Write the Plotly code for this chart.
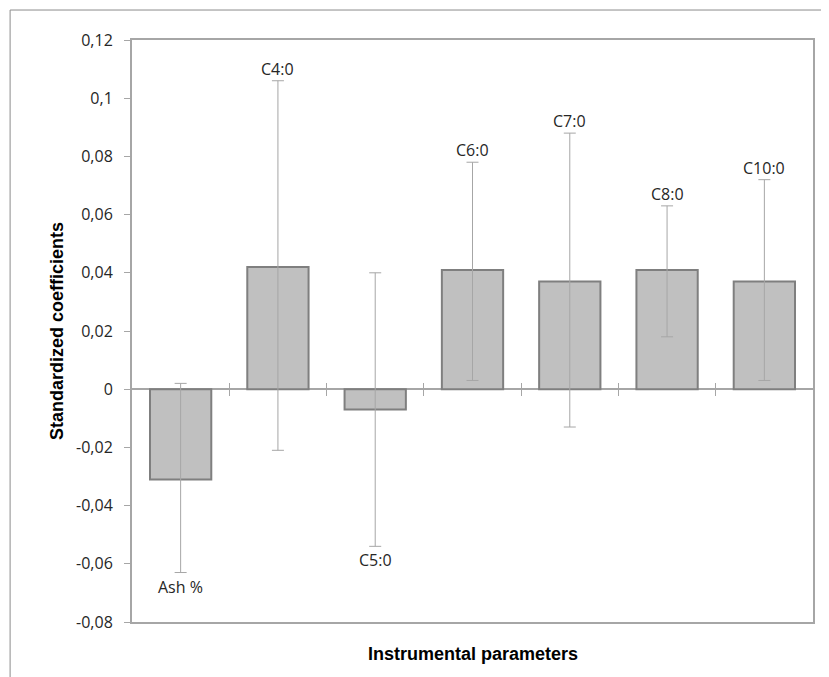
import plotly.graph_objects as go

categories = ["Ash %", "C4:0", "C5:0", "C6:0", "C7:0", "C8:0", "C10:0"]
coefficients = [-0.031, 0.042, -0.007, 0.041, 0.037, 0.041, 0.037]
upper_bounds = [0.002, 0.106, 0.040, 0.078, 0.088, 0.063, 0.072]
lower_bounds = [-0.063, -0.021, -0.054, 0.003, -0.013, 0.018, 0.003]
label_below = [True, False, True, False, False, False, False]
y_ticks = [-0.08, -0.06, -0.04, -0.02, 0, 0.02, 0.04, 0.06, 0.08, 0.1, 0.12]

err_plus = [u - v for u, v in zip(upper_bounds, coefficients)]
err_minus = [v - l for v, l in zip(coefficients, lower_bounds)]

LABEL_FONT = "Open Sans, Lato, sans-serif"
TITLE_FONT = "Liberation Sans, Arial, sans-serif"

fig = go.Figure()
fig.add_trace(go.Bar(
    x=categories, y=coefficients,
    marker=dict(color="#c0c0c0", line=dict(color="#7f7f7f", width=2)),
    error_y=dict(type="data", symmetric=False, array=err_plus, arrayminus=err_minus,
                 color="#a6a6a6", thickness=1, width=6),
    showlegend=False, hoverinfo="skip",
))

tick_bounds = [i + 0.5 for i in range(len(categories) - 1)]
zero_pos = (0 - (-0.08)) / (0.12 - (-0.08))

# labels at the end of error bars
annotations = []
for cat, lo, hi, below in zip(categories, lower_bounds, upper_bounds, label_below):
    annotations.append(dict(
        x=cat, y=lo if below else hi, xref="x", yref="y", text=cat, showarrow=False,
        yanchor="middle", yshift=-14 if below else 12,
        font=dict(family=LABEL_FONT, size=16, color="#262626")))

annotations += [
    dict(text="<b>Instrumental parameters</b>", xref="paper", yref="paper",
         x=0.5, y=-0.055, yanchor="middle", showarrow=False,
         font=dict(family=TITLE_FONT, size=18, color="black")),
    dict(text="<b>Standardized coefficients</b>", xref="paper", yref="paper",
         x=-0.110, y=0.5, xanchor="center", yanchor="middle", textangle=-90,
         showarrow=False, font=dict(family=TITLE_FONT, size=18, color="black")),
]

fig.update_layout(
    width=821, height=669,
    margin=dict(l=124, r=16, t=32, b=55, autoexpand=False),
    paper_bgcolor="white", plot_bgcolor="white",
    separators=", ",
    bargap=0.37,
    xaxis=dict(type="category", range=[-0.5, 6.5], showticklabels=False, ticks="",
               showline=True, linecolor="#a6a6a6", linewidth=2, mirror=True,
               showgrid=False, zeroline=False),
    xaxis2=dict(overlaying="x", anchor="free", position=zero_pos, range=[-0.5, 6.5],
                tickvals=tick_bounds, ticks="outside", ticklen=6, tickcolor="#a6a6a6",
                showticklabels=False, showline=False, showgrid=False, zeroline=False),
    xaxis3=dict(overlaying="x", anchor="free", position=zero_pos, range=[-0.5, 6.5],
                tickvals=tick_bounds, ticks="inside", ticklen=6, tickcolor="#a6a6a6",
                showticklabels=False, showline=False, showgrid=False, zeroline=False),
    yaxis=dict(range=[-0.08, 0.12], tickvals=y_ticks,
               ticktext=[("%g" % v).replace(".", ",") for v in y_ticks],
               ticks="outside", ticklen=6, tickcolor="#a6a6a6", ticklabelstandoff=8,
               showline=True, linecolor="#a6a6a6", linewidth=2, mirror=True,
               showgrid=False, zeroline=True, zerolinecolor="#a6a6a6", zerolinewidth=2,
               automargin=False,
               tickfont=dict(family=LABEL_FONT, size=16, color="#262626")),
    annotations=annotations,
    shapes=[dict(type="rect", xref="paper", yref="paper", x0=-0.179, x1=1.022,
                 y0=-0.2, y1=1.0515, line=dict(color="#8c8c8c", width=1), layer="below")],
)

# invisible traces to activate the tick axes at zero
fig.add_trace(go.Scatter(x=[0], y=[0], xaxis="x2", mode="markers", marker=dict(opacity=0),
                         showlegend=False, hoverinfo="skip"))
fig.add_trace(go.Scatter(x=[0], y=[0], xaxis="x3", mode="markers", marker=dict(opacity=0),
                         showlegend=False, hoverinfo="skip"))

fig.write_html("out.html")
